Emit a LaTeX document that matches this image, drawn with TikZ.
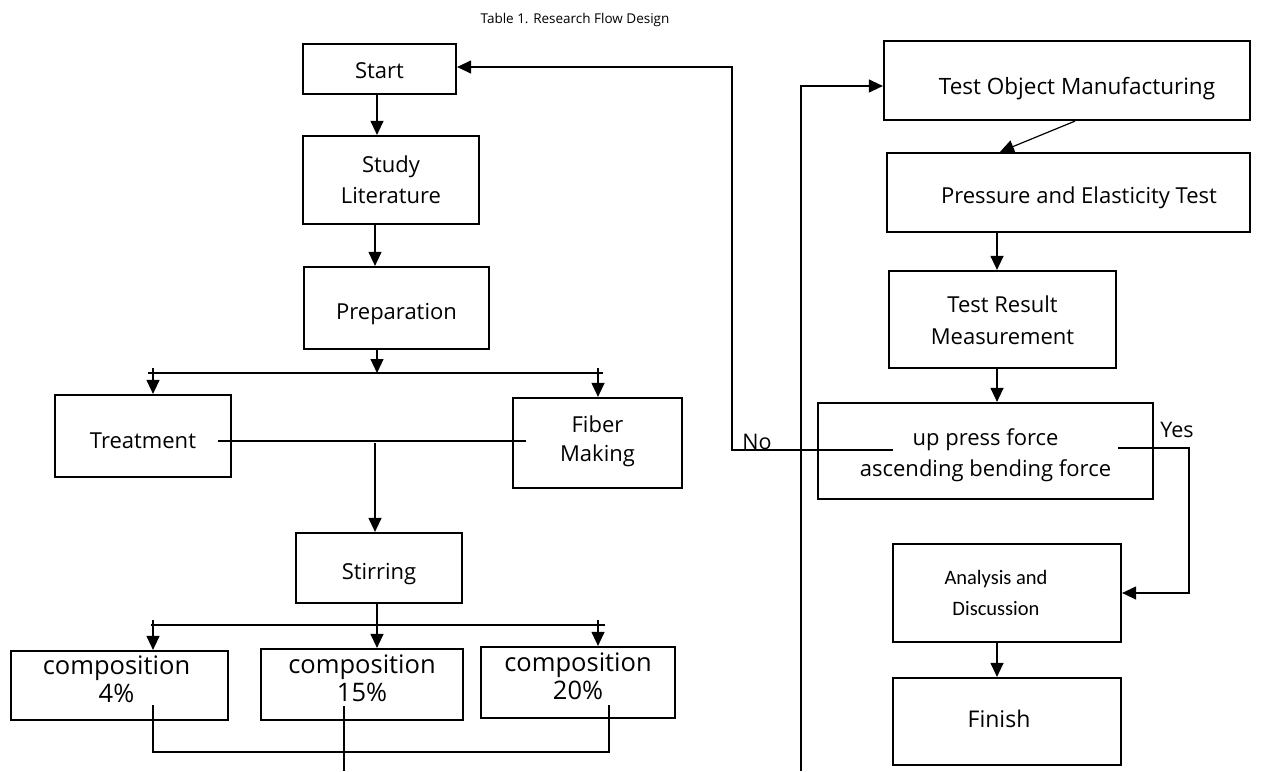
\documentclass[tikz,border=0pt]{standalone}
\usepackage{fontspec}
\setmainfont{Open Sans}
\newfontfamily\calfont{Carlito}
\usetikzlibrary{arrows.meta}
% #1 extra width before text (moves text right by half), #2 downward shift, #3 text
\newcommand\tx[3]{\hspace*{#1}\raisebox{\dimexpr-#2-0.25em\relax}[0pt][0pt]{\begin{tabular}{@{}c@{}}#3\end{tabular}}}
\begin{document}
\begin{tikzpicture}[x=1pt,y=-1pt,
  box/.style={draw, line width=2.2pt, inner sep=0pt, font=\fontsize{22}{29}\selectfont},
  bigbox/.style={box, font=\fontsize{25.5}{28}\selectfont},
  conn/.style={line width=1.2pt},
  arr/.style={conn, -{Triangle[length=14pt,width=13pt]}},
  lab/.style={inner sep=0pt, anchor=base, font=\fontsize{21.5}{24}\selectfont},
]
\useasboundingbox (0,0) rectangle (1271,771);
% title
\node[inner sep=0pt, font=\fontsize{13.5}{16}\selectfont] (title) at (575,20) {Table 1. Research Flow Design};
% left column
\node[box, minimum width=153pt, minimum height=50pt] (start) at (379.5,69) {\tx{0pt}{3pt}{Start}};
\node[box, minimum width=176pt, minimum height=88pt, font=\fontsize{22}{31}\selectfont] (study) at (391,180) {\tx{0pt}{1pt}{Study\\Literature}};
\node[box, minimum width=185pt, minimum height=82pt] (prep) at (396.5,308) {\tx{0pt}{5pt}{Preparation}};
\node[box, minimum width=176pt, minimum height=82pt] (treat) at (143,436) {\tx{0pt}{6pt}{Treatment}};
\node[box, minimum width=169pt, minimum height=90pt] (fiber) at (597.5,443) {\tx{0pt}{-2.5pt}{Fiber\\Making}};
\node[box, minimum width=166pt, minimum height=70pt] (stir) at (379,568) {\tx{0pt}{5pt}{Stirring}};
\node[bigbox, minimum width=217pt, minimum height=69pt] (c1) at (119.5,685.5) {\tx{-6pt}{-3pt}{composition\\4\%}};
\node[bigbox, minimum width=202pt, minimum height=71pt] (c2) at (362,684.5) {\tx{0pt}{-3pt}{composition\\15\%}};
\node[bigbox, minimum width=194pt, minimum height=71pt] (c3) at (578,682.5) {\tx{0pt}{-3pt}{composition\\20\%}};
% right column
\node[box, minimum width=366pt, minimum height=79pt, font=\fontsize{22.5}{29}\selectfont] (tom) at (1067,80.5) {\tx{20pt}{8pt}{Test Object Manufacturing}};
\node[box, minimum width=363pt, minimum height=79pt] (pet) at (1068.5,192.5) {\tx{21pt}{5pt}{Pressure and Elasticity Test}};
\node[box, minimum width=227pt, minimum height=97pt, font=\fontsize{22}{32}\selectfont] (trm) at (1002.5,319.5) {\tx{0pt}{2pt}{Test Result\\Measurement}};
\node[box, minimum width=335pt, minimum height=96pt, font=\fontsize{22}{31}\selectfont] (dec) at (985.5,451) {\tx{0pt}{3.5pt}{up press force\\ascending bending force}};
\node[box, minimum width=228pt, minimum height=98pt, font=\calfont\fontsize{20.5}{31}\selectfont] (ana) at (1007,593) {\tx{-22pt}{0.5pt}{Analysis and\\Discussion}};
\node[box, minimum width=228pt, minimum height=87pt, font=\fontsize{23}{30}\selectfont] (fin) at (1007,721.5) {\tx{-16pt}{0pt}{Finish}};
% labels
\node[lab] (nolab) at (757,449) {No};
\node[lab] (yeslab) at (1177,437) {Yes};
% coordinates
\coordinate (s1L) at (148,373);
\coordinate (s1R) at (603,373);
\coordinate (t1L) at (153,368);
\coordinate (t1R) at (598,368);
\coordinate (tfL) at (218,441);
\coordinate (tfR) at (526,441);
\coordinate (tfM) at (375,443);
\coordinate (s2L) at (151,625);
\coordinate (s2R) at (605,625);
\coordinate (t2L) at (153,620);
\coordinate (t2R) at (598,620);
\coordinate (b1) at (153,705);
\coordinate (b2) at (344,706);
\coordinate (b3) at (609,705);
\coordinate (bL) at (153,752);
\coordinate (bR) at (609,752);
\coordinate (bB) at (344,771);
\coordinate (lk) at (801,86);
\coordinate (lb) at (801,771);
\coordinate (noS) at (893,450);
\coordinate (noC) at (732,450);
\coordinate (noT) at (732,67);
\coordinate (yS) at (1118,448);
\coordinate (yC) at (1189,448);
\coordinate (yD) at (1189,593);
% left connectors
\draw[arr] (start.south -| 377,0) -- (377,0 |- study.north);
\draw[arr] (study.south -| 375,0) -- (375,0 |- prep.north);
\draw[arr] (prep.south -| 377,0) -- (377,373);
\draw[conn] (s1L) -- (s1R);
\draw[arr] (t1L) -- (t1L |- treat.north);
\draw[arr] (t1R) -- (t1R |- fiber.north);
\draw[conn] (tfL) -- (tfR);
\draw[arr] (tfM) -- (tfM |- stir.north);
\draw[arr] (stir.south -| 377,0) -- (377,0 |- c2.north);
\draw[conn] (s2L) -- (s2R);
\draw[arr] (t2L) -- (t2L |- c1.north);
\draw[arr] (t2R) -- (t2R |- c3.north);
\draw[conn] (b1) -- (bL) -- (bR) -- (b3);
\draw[conn] (b2) -- (bB);
% right connectors
\draw[arr] (lb) -- (lk) -- (lk -| tom.west);
\draw[arr] ([xshift=8pt]tom.south) -- ([xshift=-68.5pt]pet.north);
\draw[arr] (pet.south -| 997,0) -- (997,0 |- trm.north);
\draw[arr] (trm.south -| 997,0) -- (997,0 |- dec.north);
\draw[arr] (noS) -- (noC) -- (noT) -- (noT -| start.east);
\draw[arr] (yS) -- (yC) -- (yD) -- (yD -| ana.east);
\draw[arr] (ana.south -| 997,0) -- (997,0 |- fin.north);
\end{tikzpicture}
\end{document}
